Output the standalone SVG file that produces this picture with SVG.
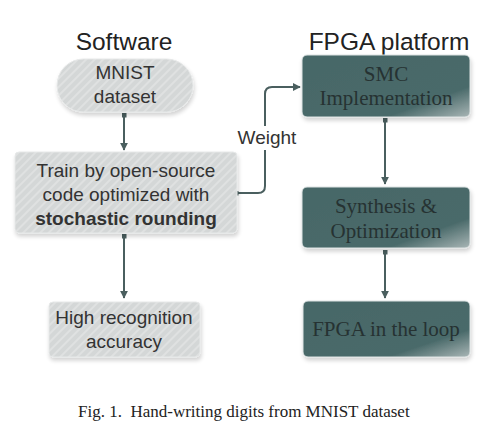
<svg xmlns="http://www.w3.org/2000/svg" width="495" height="435" viewBox="0 0 495 435">
<defs>
<pattern id="hatch" width="6" height="6" patternUnits="userSpaceOnUse" patternTransform="rotate(45)">
<rect width="6" height="6" fill="#d4d7d7"/>
<rect width="2" height="6" fill="#dfe1e1"/>
</pattern>
<linearGradient id="dark" x1="0" y1="0" x2="1" y2="1">
<stop offset="0" stop-color="#466767"/>
<stop offset="0.75" stop-color="#4a6a6a"/>
<stop offset="1" stop-color="#a9b6b6"/>
</linearGradient>
<filter id="sh" x="-10%" y="-10%" width="130%" height="140%">
<feGaussianBlur in="SourceAlpha" stdDeviation="2"/>
<feOffset dx="1" dy="3" result="b"/>
<feComponentTransfer><feFuncA type="linear" slope="0.18"/></feComponentTransfer>
<feMerge><feMergeNode/><feMergeNode in="SourceGraphic"/></feMerge>
</filter>
<marker id="arr" viewBox="0 0 10 10" refX="9" refY="5" markerWidth="8" markerHeight="9" orient="auto" markerUnits="userSpaceOnUse">
<path d="M0,0 L10,5 L0,10 z" fill="#4a5f5f"/>
</marker>
<marker id="sq" viewBox="0 0 10 10" refX="5" refY="5" markerWidth="5" markerHeight="5" orient="auto" markerUnits="userSpaceOnUse">
<rect width="10" height="10" fill="#4a5f5f"/>
</marker>
</defs>
<style>
.title{font-family:"Liberation Sans",Arial,sans-serif;font-size:24.5px;fill:#222;text-anchor:middle}
.lt{font-family:"Liberation Sans",Arial,sans-serif;font-size:19px;fill:#333;text-anchor:middle}
.dt{font-family:"Liberation Serif","Times New Roman",serif;font-size:21px;fill:#263232;text-anchor:middle}
.light{fill:url(#hatch);stroke:#e6e8e8;stroke-width:1;filter:url(#sh)}
.darkbox{fill:url(#dark);stroke:#dde3e3;stroke-width:1;filter:url(#sh)}
.conn{fill:none;stroke:#4a5f5f;stroke-width:2;marker-start:url(#sq);marker-end:url(#arr)}
.cap{font-family:"Liberation Serif","Times New Roman",serif;font-size:17px;fill:#222;white-space:pre}
</style>
<rect width="495" height="435" fill="#fff"/>
<text class="title" x="124" y="50">Software</text>
<text class="title" x="389" y="50">FPGA platform</text>
<g id="connectors">
<path class="conn" d="M124,115 L124,150"/>
<path class="conn" d="M124,236 L124,298"/>
<path class="conn" d="M236,193 L258,193 Q265,193 265,186 L265,94 Q265,87 272,87 L300,87"/>
<path class="conn" d="M385,120 L385,184"/>
<path class="conn" d="M385,252 L385,298"/>
<rect x="236" y="126" width="62" height="24" fill="#fff"/>
<text class="lt" x="267" y="144">Weight</text>
</g>
<g id="mnist">
<rect class="light" x="57" y="59" width="136" height="53" rx="26.5"/>
<text class="lt" x="125" y="79">MNIST</text>
<text class="lt" x="125" y="103">dataset</text>
</g>
<g id="train">
<rect class="light" x="15" y="152" width="222" height="81" rx="4"/>
<text class="lt" x="126" y="177">Train by open-source</text>
<text class="lt" x="126" y="201">code optimized with</text>
<text class="lt" x="126" y="225" font-weight="bold">stochastic rounding</text>
</g>
<g id="accuracy">
<rect class="light" x="49" y="302" width="151" height="55" rx="4"/>
<text class="lt" x="124" y="324">High recognition</text>
<text class="lt" x="124" y="348">accuracy</text>
</g>
<g id="smc">
<rect class="darkbox" x="302" y="55" width="168" height="62" rx="5"/>
<text class="dt" x="386" y="81">SMC</text>
<text class="dt" x="386" y="105">Implementation</text>
</g>
<g id="synthesis">
<rect class="darkbox" x="302" y="187" width="168" height="61" rx="5"/>
<text class="dt" x="386" y="213">Synthesis &amp;</text>
<text class="dt" x="386" y="238">Optimization</text>
</g>
<g id="fpga">
<rect class="darkbox" x="303" y="301" width="167" height="56" rx="5"/>
<text class="dt" x="386" y="336">FPGA in the loop</text>
</g>
<text class="cap" x="78" y="417" xml:space="preserve">Fig. 1.  Hand-writing digits from MNIST dataset</text>
</svg>
